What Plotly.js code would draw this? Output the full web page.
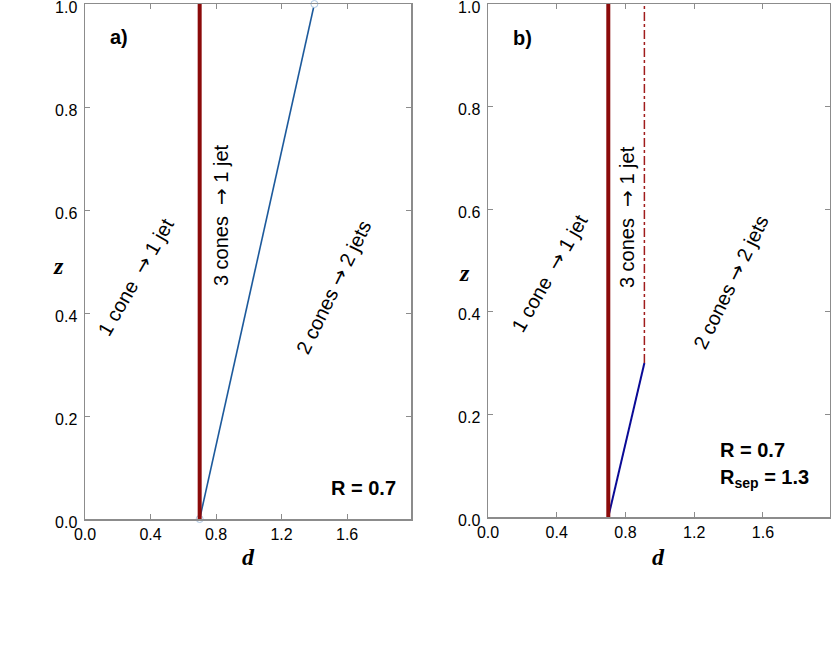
<!DOCTYPE html>
<html>
<head>
<meta charset="utf-8">
<script src="https://cdn.plot.ly/plotly-3.0.1.min.js"></script>
<style>
  body { margin: 0; padding: 0; background: #fff; }
  #chart { width: 831px; height: 657px; }
</style>
</head>
<body>
<div id="chart"></div>
<script>
// Boundary lines (d on x, z on y)
const R = 0.7;
const Rsep = 1.3;

// panel a
const redA_d = [0.7, 0.7];
const redA_z = [0.0, 1.0];
const blueA_d = [0.7, 1.4];
const blueA_z = [0.0, 1.0];

// panel b
const redB_d = [0.7, 0.7];
const redB_z = [0.0, 1.0];
const blueB_d = [0.7, 0.91];
const blueB_z = [0.0, 0.3];
const dashB_d = [0.91, 0.91];
const dashB_z = [0.3, 1.0];

const xTicks = [0.0, 0.4, 0.8, 1.2, 1.6];
const yTicks = [0.0, 0.2, 0.4, 0.6, 0.8, 1.0];

const regionFrom = ['1 cone', '3 cones', '2 cones'];
const regionTo = ['1 jet', '1 jet', '2 jets'];

const darkRed = '#8b0a0a';
const axisGrey = '#8c8c8c';

// arrow drawn in DejaVu so it is long like in the original
function regionText(i) {
    const gap = i < 2 ? '  ' : ' ';
    return regionFrom[i] + gap + '<span style="font-family:DejaVu Sans">\u2192</span> ' + regionTo[i];
}

let data = [];

// panel a traces
data.push({
    x: blueA_d, y: blueA_z, xaxis: 'x', yaxis: 'y',
    type: 'scatter', mode: 'lines+markers',
    line: { color: '#1d5a9c', width: 1.6 },
    marker: { size: 7, color: 'white', line: { color: '#a9c4e0', width: 1 } },
    cliponaxis: false
});
data.push({
    x: redA_d, y: redA_z, xaxis: 'x', yaxis: 'y',
    type: 'scatter', mode: 'lines',
    line: { color: darkRed, width: 4 },
    cliponaxis: false
});

// panel b traces
data.push({
    x: dashB_d, y: dashB_z, xaxis: 'x2', yaxis: 'y2',
    type: 'scatter', mode: 'lines',
    line: { color: '#a01c1c', width: 1.5, dash: 'dashdot' }
});
data.push({
    x: blueB_d, y: blueB_z, xaxis: 'x2', yaxis: 'y2',
    type: 'scatter', mode: 'lines',
    line: { color: '#0a0a96', width: 2 },
    cliponaxis: false
});
data.push({
    x: redB_d, y: redB_z, xaxis: 'x2', yaxis: 'y2',
    type: 'scatter', mode: 'lines',
    line: { color: darkRed, width: 4 },
    cliponaxis: false
});

const tickFont = { family: 'Liberation Sans, Arial, sans-serif', size: 16, color: '#000' };

function xAxisDef(domain, anchor) {
    return {
        domain: domain, anchor: anchor,
        range: [0, 1.99],
        tickvals: xTicks, ticktext: xTicks.map(v => v.toFixed(1)),
        ticks: 'inside', ticklen: 5, tickcolor: axisGrey,
        showline: true, linecolor: axisGrey, linewidth: 1.5, mirror: 'ticks',
        showgrid: false, zeroline: false,
        ticklabeloverflow: 'allow',
        tickfont: tickFont
    };
}
function yAxisDef(domain, anchor) {
    return {
        domain: domain, anchor: anchor,
        range: [0, 1],
        tickvals: yTicks, ticktext: yTicks.map(v => v.toFixed(1)),
        ticks: 'inside', ticklen: 5, tickcolor: axisGrey,
        showline: true, linecolor: axisGrey, linewidth: 1.5, mirror: 'ticks',
        showgrid: false, zeroline: false,
        ticklabeloverflow: 'allow',
        ticklabelshift: 3,   // labels sit a little below their ticks in the original
        ticklabelstandoff: 3,
        tickfont: tickFont
    };
}

const W = 831, H = 657;
const labelFont = { family: 'Liberation Sans, Arial, sans-serif', size: 20, color: '#000' };
const boldFont = { family: 'Liberation Sans, Arial, sans-serif', size: 20, color: '#000' };
const axisTitleFont = { family: 'Liberation Serif, DejaVu Serif, serif', size: 24, color: '#000' };

function paperLabel(px, py, text) {
    return { xref: 'paper', yref: 'paper', x: px / W, y: 1 - py / H, xanchor: 'center', yanchor: 'middle',
             text: text, font: axisTitleFont, showarrow: false };
}

let annotations = [
    // panel a
    { xref: 'x', yref: 'y', x: 0.21, y: 0.935, text: '<b>a)</b>', font: boldFont, showarrow: false },
    { xref: 'x', yref: 'y', x: 0.31, y: 0.47, text: regionText(0), textangle: -60, font: labelFont, showarrow: false },
    { xref: 'x', yref: 'y', x: 0.83, y: 0.59, text: regionText(1), textangle: -90, font: labelFont, showarrow: false },
    { xref: 'x', yref: 'y', x: 1.52, y: 0.45, text: regionText(2), textangle: -64, font: labelFont, showarrow: false },
    { xref: 'x', yref: 'y', x: 1.91, y: 0.06, text: '<b>R = ' + R + '</b>', xanchor: 'right', font: boldFont, showarrow: false },
    paperLabel(58, 266, '<b><i>z</i></b>'),
    paperLabel(248, 557, '<b><i>d</i></b>'),
    // panel b
    { xref: 'x2', yref: 'y2', x: 0.2, y: 0.934, text: '<b>b)</b>', font: boldFont, showarrow: false },
    { xref: 'x2', yref: 'y2', x: 0.36, y: 0.475, text: regionText(0), textangle: -60, font: labelFont, showarrow: false },
    { xref: 'x2', yref: 'y2', x: 0.81, y: 0.585, text: regionText(1), textangle: -90, font: labelFont, showarrow: false },
    { xref: 'x2', yref: 'y2', x: 1.415, y: 0.458, text: regionText(2), textangle: -64, font: labelFont, showarrow: false },
    { xref: 'x2', yref: 'y2', x: 1.34, y: 0.13, text: '<b>R = ' + R + '</b>', xanchor: 'left', font: boldFont, showarrow: false },
    { xref: 'x2', yref: 'y2', x: 1.34, y: 0.075, text: '<b>R<sub>sep</sub> = ' + Rsep + '</b>', xanchor: 'left', font: boldFont, showarrow: false },
    paperLabel(464, 273, '<b><i>z</i></b>'),
    paperLabel(658, 557, '<b><i>d</i></b>')
];

let layout = {
    width: W, height: H,
    showlegend: false,
    paper_bgcolor: 'white', plot_bgcolor: 'white',
    margin: { l: 0, r: 0, t: 0, b: 0 },
    xaxis: xAxisDef([85 / W, 411 / W], 'y'),
    yaxis: yAxisDef([1 - 519 / H, 1 - 4 / H], 'x'),
    xaxis2: xAxisDef([488 / W, 830 / W], 'y2'),
    yaxis2: yAxisDef([1 - 517 / H, 1 - 4 / H], 'x2'),
    annotations: annotations
};

Plotly.newPlot('chart', data, layout, { displayModeBar: false, staticPlot: true });
</script>
</body>
</html>
